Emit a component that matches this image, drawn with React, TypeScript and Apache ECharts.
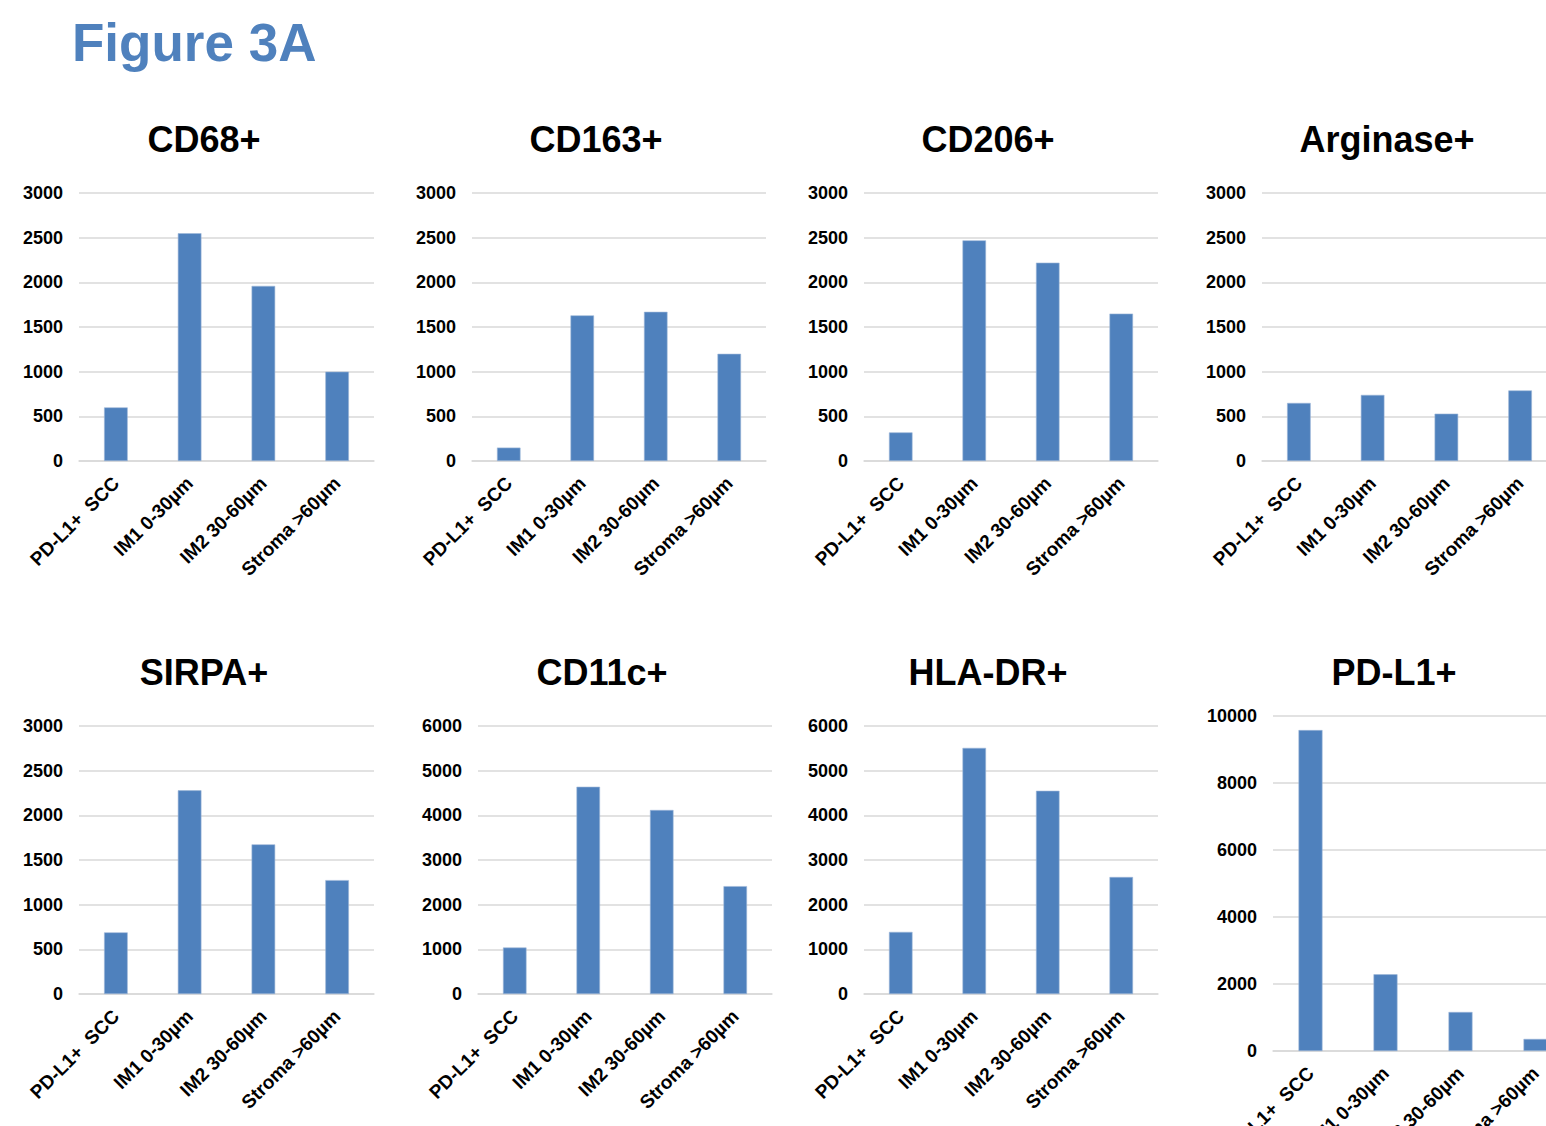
import React, { useEffect, useRef } from "react";
import * as echarts from "echarts";

const categories = ["PD-L1+  SCC", "IM1 0-30µm", "IM2 30-60µm", "Stroma >60µm"];

const panelTitles = ["CD68+", "CD163+", "CD206+", "Arginase+", "SIRPA+", "CD11c+", "HLA-DR+", "PD-L1+"];

const cd68 = [600, 2550, 1960, 1000];
const cd163 = [150, 1630, 1670, 1200];
const cd206 = [320, 2470, 2220, 1650];
const arginase = [650, 740, 530, 790];
const sirpa = [690, 2280, 1675, 1275];
const cd11c = [1040, 4640, 4120, 2415];
const hladr = [1390, 5510, 4550, 2620];
const pdl1 = [9580, 2290, 1165, 360];

const yMax = [3000, 3000, 3000, 3000, 3000, 6000, 6000, 10000];
const yStep = [500, 500, 500, 500, 500, 1000, 1000, 2000];

const seriesData = [cd68, cd163, cd206, arginase, sirpa, cd11c, hladr, pdl1];

// layout (pixels)
const grids = [
  { left: 79, top: 193, width: 295, height: 268 },
  { left: 472, top: 193, width: 294, height: 268 },
  { left: 864, top: 193, width: 294, height: 268 },
  { left: 1262, top: 193, width: 295, height: 268 },
  { left: 79, top: 726, width: 295, height: 268 },
  { left: 478, top: 726, width: 294, height: 268 },
  { left: 864, top: 726, width: 294, height: 268 },
  { left: 1273, top: 716, width: 300, height: 335 },
];
const titlePos = [
  [204, 139], [596, 139], [988, 139], [1387, 139],
  [204, 672], [602, 672], [988, 672], [1394, 672],
];

const FONT = '"Liberation Sans", Arial, Helvetica, sans-serif';
const BAR = "#4F81BD";
const GRID = "#d9d9d9";

export default function App() {
  const ref = useRef<HTMLDivElement>(null);
  useEffect(() => {
    document.body.style.margin = "0";
    document.body.style.overflow = "hidden";
    const chart = echarts.init(ref.current!, null, { renderer: "svg" });
    const option: any = {
      animation: false,
      backgroundColor: "#ffffff",
      grid: grids.map((g) => ({ ...g, outerBoundsMode: "none" })),
      xAxis: grids.map((_, i) => ({
        type: "category",
        gridIndex: i,
        data: categories,
        axisTick: { show: false },
        axisLine: { show: true, lineStyle: { color: GRID, width: 1.5 } },
        axisLabel: {
          interval: 0,
          rotate: 45,
          margin: 19,
          color: "#000",
          fontFamily: FONT,
          fontWeight: "bold",
          fontSize: 19,
        },
      })),
      yAxis: grids.map((_, i) => ({
        type: "value",
        gridIndex: i,
        min: 0,
        max: yMax[i],
        interval: yStep[i],
        axisLine: { show: false },
        axisTick: { show: false },
        splitLine: { lineStyle: { color: GRID, width: 1.5 } },
        axisLabel: {
          margin: 16,
          color: "#000",
          fontFamily: FONT,
          fontWeight: "bold",
          fontSize: 18,
          formatter: (v: number) => String(v),
        },
      })),
      series: seriesData.map((d, i) => ({
        type: "bar",
        xAxisIndex: i,
        yAxisIndex: i,
        data: d,
        barWidth: "32%",
        itemStyle: { color: BAR, borderColor: "#9db7d8", borderWidth: 0.6 },
      })),
      graphic: [
        {
          type: "text",
          x: 72,
          y: 42,
          style: {
            text: "Figure 3A",
            fill: BAR,
            font: `bold 53px ${FONT}`,
            textAlign: "left",
            textVerticalAlign: "middle",
          },
        },
        ...panelTitles.map((t, i) => ({
          type: "text",
          x: titlePos[i][0],
          y: titlePos[i][1],
          style: {
            text: t,
            fill: "#000",
            font: `bold 36px ${FONT}`,
            textAlign: "center",
            textVerticalAlign: "middle",
          },
        })),
      ],
    };
    chart.setOption(option);
    return () => chart.dispose();
  }, []);
  return (
    <div
      ref={ref}
      style={{ position: "absolute", left: 0, top: 0, width: 1546, height: 1126, overflow: "hidden" }}
    />
  );
}
